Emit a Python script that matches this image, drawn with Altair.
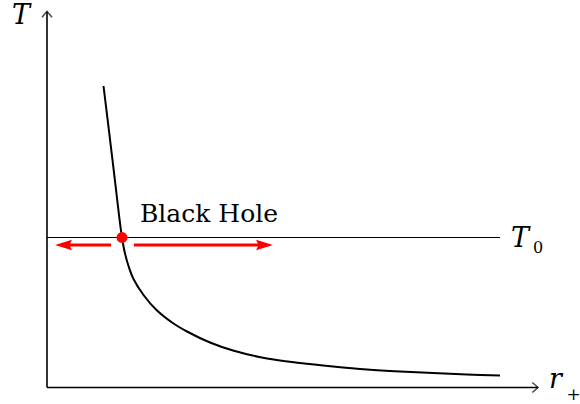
import altair as alt
import pandas as pd

# Temperature curve T(r_+) of the black hole
r_curve = [1.13, 1.31, 1.44, 1.50, 1.56, 1.64, 1.73, 1.93, 2.19, 2.53, 2.80, 3.26, 3.72,
           4.40, 5.06, 5.72, 6.40, 7.06, 7.72, 8.40, 9.06]
t_curve = [6.03, 4.55, 3.45, 3.00, 2.68, 2.40, 2.17, 1.85, 1.55, 1.28, 1.12, 0.90, 0.74,
           0.58, 0.49, 0.42, 0.36, 0.32, 0.29, 0.26, 0.24]

# Environment temperature and the equilibrium point
T0 = 3.0
r_eq = 1.5
r_t0_end = 9.06

# Red arrows (shaft start, tip) at a level just below T0
arrow_y = 2.85
arrow_start = [1.28, 1.74]
arrow_tip = [0.16, 4.52]

# Axis extents
r_max = 9.82
t_max = 7.52

X = alt.Scale(domain=[-0.94, 10.66], nice=False, zero=False)
Y = alt.Scale(domain=[-0.33, 7.75], nice=False, zero=False)

serif = "DejaVu Serif"


def xy(df, **kw):
    enc = dict(
        x=alt.X("r:Q", scale=X, axis=None),
        y=alt.Y("t:Q", scale=Y, axis=None),
    )
    enc.update(kw)
    return alt.Chart(df).encode(**enc)


curve = xy(pd.DataFrame({"r": r_curve, "t": t_curve})).mark_line(
    color="black", strokeWidth=2, interpolate="catmull-rom"
)

t0_line = xy(pd.DataFrame({"r": [0, r_t0_end], "t": [T0, T0]})).mark_line(
    color="black", strokeWidth=1
)

axes_df = pd.DataFrame({
    "r": [0, 0], "t": [0, 0], "r2": [r_max, 0], "t2": [0, t_max],
})
axes = alt.Chart(axes_df).mark_rule(color="black", strokeWidth=1.6).encode(
    x=alt.X("r:Q", scale=X, axis=None),
    y=alt.Y("t:Q", scale=Y, axis=None),
    x2="r2:Q",
    y2="t2:Q",
)

up_head = xy(pd.DataFrame({"r": [0], "t": [t_max]})).mark_point(
    shape="M-1,1.15 Q-0.35,0.35 0,0 Q0.35,0.35 1,1.15",
    size=100, color="black", filled=False, strokeWidth=1.6,
)
right_head = xy(pd.DataFrame({"r": [r_max], "t": [0]})).mark_point(
    shape="M-1.15,-1 Q-0.35,-0.35 0,0 Q-0.35,0.35 -1.15,1",
    size=100, color="black", filled=False, strokeWidth=1.6,
)

shafts = alt.Chart(pd.DataFrame({
    "r": arrow_start, "r2": [arrow_tip[0] + 0.2, arrow_tip[1] - 0.2], "t": [arrow_y, arrow_y],
})).mark_rule(color="#ff0000", strokeWidth=3).encode(
    x=alt.X("r:Q", scale=X, axis=None),
    x2="r2:Q",
    y=alt.Y("t:Q", scale=Y, axis=None),
)
left_tip = xy(pd.DataFrame({"r": [arrow_tip[0]], "t": [arrow_y]})).mark_point(
    shape="M0,0 L2,-0.62 L1.7,0 L2,0.62 Z",
    size=289, color="#ff0000", filled=True, opacity=1, strokeWidth=0,
)
right_tip = xy(pd.DataFrame({"r": [arrow_tip[1]], "t": [arrow_y]})).mark_point(
    shape="M0,0 L-2,-0.62 L-1.7,0 L-2,0.62 Z",
    size=289, color="#ff0000", filled=True, opacity=1, strokeWidth=0,
)

dot = xy(pd.DataFrame({"r": [r_eq], "t": [T0]})).mark_circle(
    color="#ff0000", size=120, opacity=1
)


def label(r, t, text, size, italic=True, align="left", baseline="alphabetic"):
    return xy(pd.DataFrame({"r": [r], "t": [t], "s": [text]}), text="s:N").mark_text(
        font=serif, fontSize=size, fontStyle="italic" if italic else "normal",
        align=align, baseline=baseline, color="black",
    )


labels = [
    label(-0.70, 7.28, "T", 27),
    label(9.28, 2.82, "T", 27),
    label(9.72, 2.70, "0", 16, italic=False),
    label(10.04, 0.0, "r", 27),
    label(10.39, -0.15, "+", 17, italic=False, baseline="middle"),
    label(1.86, 3.32, "Black Hole", 25, italic=False),
]

chart = alt.layer(
    t0_line, axes, up_head, right_head, curve, shafts, left_tip, right_tip, dot, *labels
).properties(
    width=580, height=404, padding=0, autosize=alt.AutoSizeParams(type="none")
).configure_view(stroke=None)

chart.save("out.html", embed_options={"renderer": "svg", "actions": False})
